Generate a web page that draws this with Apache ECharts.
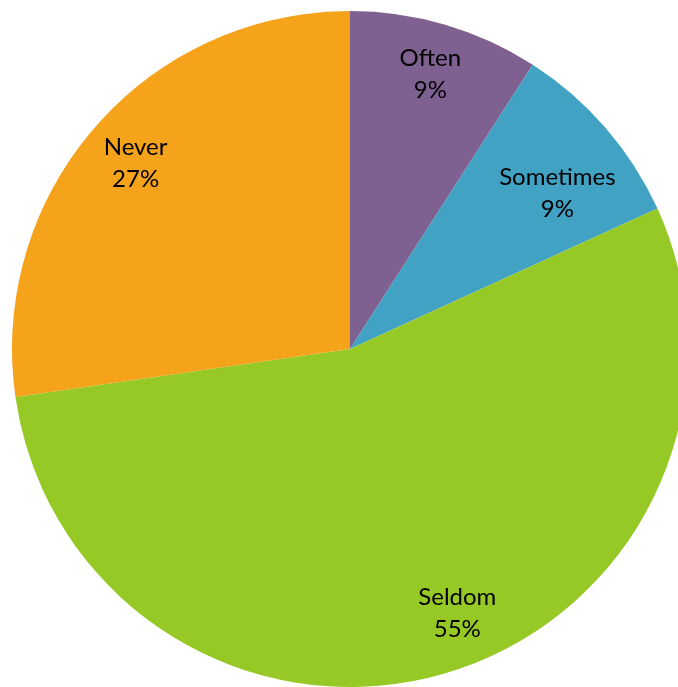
<!DOCTYPE html>
<html><head><meta charset="utf-8">
<script src="https://cdn.jsdelivr.net/npm/echarts@6/dist/echarts.min.js"></script>
<style>html,body{margin:0;padding:0;background:#fff}#c{width:678px;height:687px}</style>
</head><body><div id="c"></div>
<script>
const categories = ['Often', 'Sometimes', 'Seldom', 'Never'];
const values = [1, 1, 6, 3];
const colors = ['#7E6190', '#41A2C4', '#97C926', '#F4A31B'];

const chart = echarts.init(document.getElementById('c'), null, {renderer: 'canvas'});
const labelStyle = {
  Often: {offset: [0, -1]},
  Sometimes: {offset: [-8, 31]},
  Seldom: {offset: [27, -9]},
  Never: {offset: [1, 1]}
};
const data = categories.map((c, i) => ({name: c, value: values[i], itemStyle: {color: colors[i]}}));
const labelData = categories.map((c, i) => ({name: c, value: values[i], label: labelStyle[c]}));
chart.setOption({
  animation: false,
  series: [
    {
      type: 'pie',
      center: [350, 349],
      radius: [0, 338],
      startAngle: 90,
      clockwise: true,
      silent: true,
      label: {show: false},
      labelLine: {show: false},
      itemStyle: {borderWidth: 0},
      data: data
    },
    {
      type: 'pie',
      center: [350, 349],
      radius: [0, 564],
      startAngle: 90,
      clockwise: true,
      silent: true,
      itemStyle: {color: 'rgba(0,0,0,0)', borderWidth: 0},
      label: {
        show: true,
        position: 'inside',
        formatter: p => p.name + '\n' + Math.round(p.percent) + '%',
        color: '#000',
        fontSize: 24,
        lineHeight: 32,
        fontFamily: 'Lato, "Open Sans", sans-serif'
      },
      labelLine: {show: false},
      data: labelData
    }
  ]
});
</script></body></html>
